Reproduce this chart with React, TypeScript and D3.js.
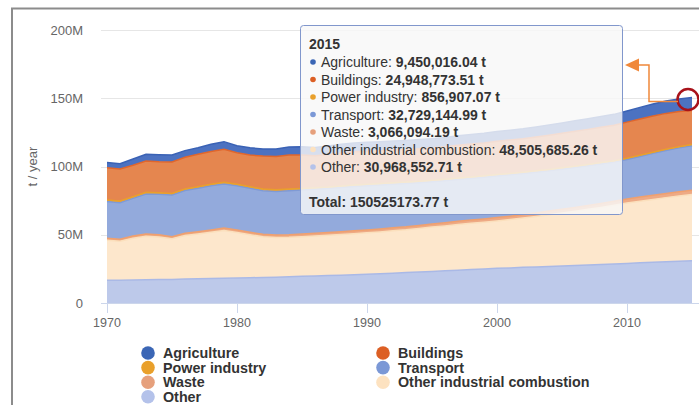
import React from 'react';
import * as d3 from 'd3';

const years: number[] = d3.range(1970, 2016);

const agriculture = [3.9,3.8,4.5,5.0,5.1,5.1,4.9,4.8,5.3,5.6, 5.1,5.4,5.1,5.6,5.9,6.0,6.1,6.2,6.3,6.4, 6.5,6.5,6.6,6.6,6.7,6.8,6.8,6.9,7.0,7.0, 7.1,7.2,7.3,7.4,7.5,7.6,7.7,7.8,7.9,8.0, 8.2,8.5,8.8,9.0,9.2,9.45001604];
const buildings = [23.6,23.5,23.1,22.9,22.7,23.0,23.2,23.8,23.9,24.2, 23.1,23.2,24.2,24.4,24.9,24.5,23.5,23.8,24.2,24.3, 24.2,24.1,24.0,23.9,23.8,23.7,23.8,24.1,24.2,24.1, 24.5,24.5,24.5,24.8,25.1,25.3,25.5,25.7,25.9,26.0, 26.4,26.6,26.5,26.3,25.7,24.94877351];
const powerIndustry = [1.2,1.2,1.2,1.2,1.2,1.2,1.2,1.2,1.2,1.2, 1.15,1.15,1.15,1.15,1.15,1.15,1.15,1.15,1.15,1.15, 1.1,1.1,1.1,1.1,1.1,1.1,1.1,1.1,1.1,1.1, 1.0,1.0,1.0,1.0,1.0,1.0,1.0,1.0,1.0,1.0, 0.95,0.93,0.9,0.89,0.87,0.85690707];
const transport = [26.9,26.8,27.6,29.4,29.6,30.5,31.3,31.8,32.3,32.3, 32.4,32.2,32.0,31.9,32.3,32.3,32.2,32.2,32.4,32.5, 32.4,32.2,31.9,31.7,31.3,30.9,30.7,30.6,30.4,30.5, 30.5,30.3,30.0,29.8,29.5,29.4,29.2,29.1,29.0,28.7, 28.9,29.7,30.7,31.5,32.2,32.72914499];
const waste = [1.5,1.5,1.55,1.6,1.6,1.6,1.65,1.7,1.75,1.8, 1.8,1.8,1.8,1.85,1.9,1.9,1.95,2.0,2.0,2.05, 2.1,2.1,2.15,2.2,2.2,2.25,2.3,2.35,2.4,2.4, 2.45,2.5,2.55,2.6,2.65,2.7,2.75,2.8,2.85,2.9, 2.95,2.97,3.0,3.02,3.05,3.06609419];
const otherIndustrial = [29.3,28.5,30.6,31.8,31.2,29.7,31.8,32.7,33.8,34.9, 33.4,31.5,29.8,29.1,28.9,29.0,29.3,29.5,29.8,30.1, 30.4,30.7,31.1,31.3,31.9,32.5,32.9,33.5,33.9,34.3, 34.7,35.4,36.2,37.0,37.9,38.8,39.8,40.8,41.8,43.0, 44.3,45.2,46.1,47.0,47.8,48.50568526];
const other = [16.6,16.7,16.9,17.1,17.2,17.3,17.6,17.8,18.0,18.2, 18.3,18.5,18.7,18.9,19.2,19.6,19.8,20.1,20.4,20.7, 21.0,21.4,21.8,22.3,22.7,23.1,23.6,24.0,24.5,24.9, 25.4,25.7,26.1,26.4,26.8,27.1,27.5,27.8,28.2,28.6, 29.0,29.4,29.8,30.2,30.6,30.96855271];

const xTicks = [1970, 1980, 1990, 2000, 2010];
const yTicks = [0, 50, 100, 150, 200];
const yTickLabels = ['0', '50M', '100M', '150M', '200M'];

// legend / tooltip order (Highcharts series order; first is on top of the stack)
const seriesNames = ['Agriculture', 'Buildings', 'Power industry', 'Transport', 'Waste', 'Other industrial combustion', 'Other'];
const seriesValues = [agriculture, buildings, powerIndustry, transport, waste, otherIndustrial, other];
const seriesKeys = ['agriculture', 'buildings', 'power', 'transport', 'waste', 'oic', 'other'];
const fillColors = ['#4c72c1', '#e5864f', '#eda441', '#93aadc', '#eeaa85', '#fde7cc', '#bdc9ea'];
const lineColors = ['#3a62b5', '#e0662c', '#e9a02b', '#7f9ad5', '#f0a06e', '#fbe0bd', '#aab9e6'];
const dotColors = ['#3b66b5', '#dc5f24', '#e9a02b', '#7b98d6', '#e6a07c', '#fde2c0', '#b4c2ea'];

const W = 699, H = 405;
const x = d3.scaleLinear().domain([1970, 2015]).range([107, 692]);
const y = d3.scaleLinear().domain([0, 200]).range([303, 30]);

const FONT = '"Liberation Sans", Arial, sans-serif';

export default function App() {
  const rows = years.map((yr, i) => {
    const r: any = { year: yr };
    seriesKeys.forEach((k, j) => (r[k] = seriesValues[j][i]));
    return r;
  });
  const stackKeys = [...seriesKeys].reverse(); // bottom to top
  const stacked = d3.stack<any>().keys(stackKeys)(rows);
  const area = d3.area<any>().x((d) => x(d.data.year)).y0((d) => y(d[0])).y1((d) => y(d[1]));
  const line = d3.line<any>().x((d) => x(d.data.year)).y((d) => y(d[1]));

  const last = years.length - 1;
  const total = seriesValues.reduce((s, v) => s + v[last], 0);
  const fmt = d3.format(',.2f');

  // tooltip geometry
  const tx = 300, ty = 25, tw = 322, th = 189;
  const cx = x(years[last]) - 4, cy = y(total) + 2;
  const elbowX = 649, arrowY = 65;

  const legendCols = [148, 383];
  const legendRow0 = 353, legendStep = 14.6;

  return (
    <svg width={W} height={H} style={{ position: 'absolute', left: 0, top: 0, background: '#fff' }} fontFamily={FONT}>
      <rect x={0} y={0} width={W} height={H} fill="#fff" />
      <rect x={12} y={8.5} width={720} height={440} fill="none" stroke="#8c8c8c" strokeWidth={2} />
      {/* grid */}
      {yTicks.map((t) => (
        <line key={t} x1={101} x2={W} y1={Math.round(y(t)) + 0.5} y2={Math.round(y(t)) + 0.5} stroke="#e6e6e6" strokeWidth={1} />
      ))}
      {/* areas */}
      {stacked.map((s) => {
        const j = seriesKeys.indexOf(s.key);
        return <path key={s.key} d={area(s) || ''} fill={fillColors[j]} />;
      })}
      {stacked.map((s) => {
        const j = seriesKeys.indexOf(s.key);
        return <path key={s.key + 'l'} d={line(s) || ''} fill="none" stroke={lineColors[j]} strokeWidth={1.5} />;
      })}
      {/* x axis */}
      <line x1={101} x2={W} y1={303.5} y2={303.5} stroke="#ccd6eb" />
      {xTicks.map((t) => (
        <g key={t}>
          <line x1={Math.round(x(t)) + 0.5} x2={Math.round(x(t)) + 0.5} y1={303} y2={313} stroke="#ccd6eb" />
          <text x={x(t)} y={327} textAnchor="middle" fontSize={12.5} fill="#666">{t}</text>
        </g>
      ))}
      {/* y axis labels */}
      {yTicks.map((t, i) => (
        <text key={t} x={83} y={y(t) + 4.5} textAnchor="end" fontSize={13} fill="#666">{yTickLabels[i]}</text>
      ))}
      <text transform={`translate(37,${y(100)}) rotate(-90)`} textAnchor="middle" fontSize={13} fill="#666">t / year</text>

      {/* legend */}
      {seriesNames.map((n, i) => {
        const col = i % 2, row = Math.floor(i / 2);
        const lx = legendCols[col], ly = legendRow0 + row * legendStep;
        return (
          <g key={n}>
            <circle cx={lx} cy={ly} r={6.8} fill={dotColors[i]} />
            <text x={lx + 15} y={ly + 5} fontSize={14.3} fontWeight="bold" fill="#333">{n}</text>
          </g>
        );
      })}

      {/* highlight circle and arrow */}
      <circle cx={cx} cy={cy} r={10.5} fill="none" stroke="#a8121a" strokeWidth={2.5} />
      <polyline points={`${cx - 10},${cy + 2} ${elbowX},${cy + 2} ${elbowX},${arrowY} ${tx + tw + 14},${arrowY}`} fill="none" stroke="#f0883a" strokeWidth={1.5} />
      <path d={`M${tx + tw + 3},${arrowY} L${tx + tw + 17},${arrowY - 6.5} L${tx + tw + 17},${arrowY + 6.5} Z`} fill="#f0883a" />

      {/* tooltip */}
      <rect x={tx + 0.5} y={ty + 0.5} width={tw} height={th} rx={3} fill="rgba(248,248,248,0.82)" stroke="#8197cc" strokeWidth={1} />
      <text x={tx + 9} y={ty + 24} fontSize={14} fontWeight="bold" fill="#333">{years[last]}</text>
      {seriesNames.map((n, i) => {
        const ly = ty + 37 + i * 17.5;
        return (
          <g key={n}>
            <circle cx={tx + 13} cy={ly} r={2.8} fill={dotColors[i]} />
            <text x={tx + 21} y={ly + 5} fontSize={14} fill="#333">
              {n}: <tspan fontWeight="bold">{fmt(seriesValues[i][last] * 1e6)} t</tspan>
            </text>
          </g>
        );
      })}
      <text x={tx + 9} y={ty + 182} fontSize={14} fontWeight="bold" fill="#333">Total: {d3.format('.2f')(total * 1e6)} t</text>
    </svg>
  );
}
